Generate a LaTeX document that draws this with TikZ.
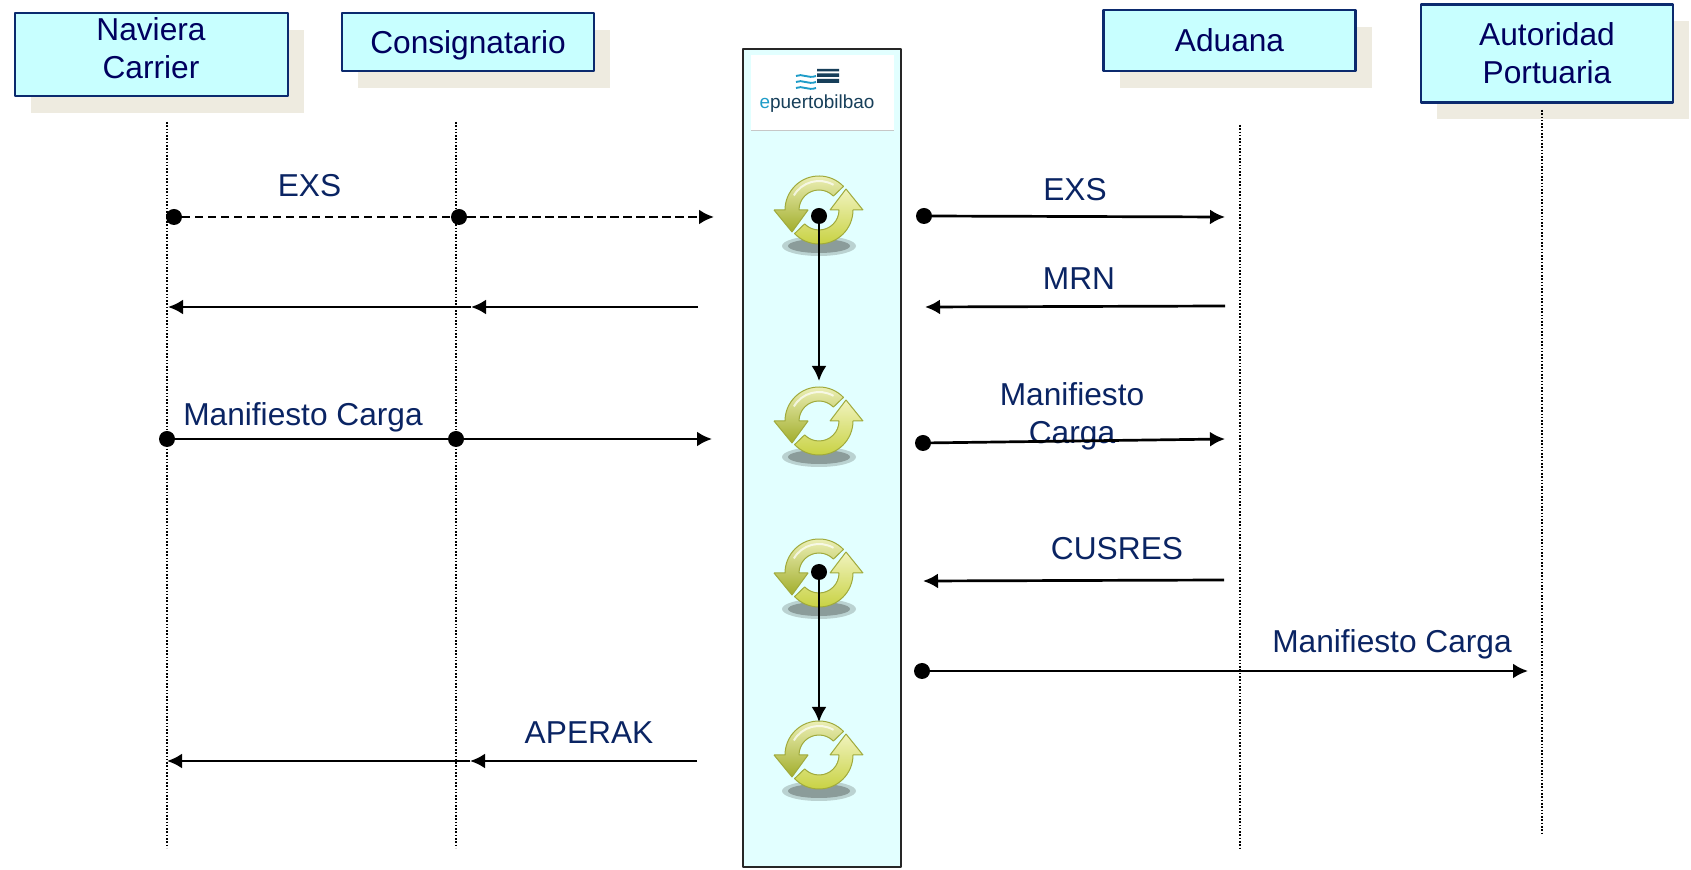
\documentclass[tikz,border=0pt]{standalone}
\usepackage{fontspec}
\setmainfont{Liberation Sans}
\usetikzlibrary{arrows.meta,shadows}
\definecolor{boxfill}{HTML}{C8FFFF}
\definecolor{boxline}{HTML}{0B2A6E}
\definecolor{boxtext}{HTML}{00005F}
\definecolor{msgtext}{HTML}{0A2463}
\definecolor{boxshadow}{HTML}{EEEBE0}
\definecolor{portfill}{HTML}{E2FFFF}
\definecolor{iconline}{HTML}{A0AA3C}
\definecolor{iconlight}{HTML}{F0F3BE}
\definecolor{icondark}{HTML}{A2AE2C}
\definecolor{iconmid}{HTML}{C6D03C}
\definecolor{iconshade}{HTML}{8B9C9A}
\definecolor{logodark}{HTML}{173F5A}
\definecolor{logoblue}{HTML}{1E9CC8}
\tikzset{
  hdrbox/.style={rectangle,draw=boxline,fill=boxfill,line width=2.6bp,inner sep=0pt,
    general shadow={shadow xshift=16bp,shadow yshift=-17bp,draw=none,fill=boxshadow,opacity=1}},
  hdrtext/.style={text=boxtext,font=\fontsize{31.8}{38}\selectfont,align=center,inner sep=0pt},
  msgtext/.style={text=msgtext,font=\fontsize{31.8}{38}\selectfont,align=center,inner sep=0pt},
  msgdot/.style={circle,fill=black,minimum size=16bp,inner sep=0pt},
  lifeline/.style={line width=1.7bp,dash pattern=on 1.6bp off 1.7bp},
  msgline/.style={->,line width=2.7bp},
  cycleicon/.pic={
    \fill [iconshade,opacity=.45] (0bp,-36bp) ellipse (37bp and 10bp);
    \fill [iconshade] (0bp,-36bp) ellipse (31bp and 7bp);
    \path [draw=iconline,line width=1bp,top color=iconlight,bottom color=icondark]
      (44:34bp) arc [start angle=44,end angle=180,radius=34bp] -- (-45bp,0bp) -- (-27bp,-22bp)
      -- (-11bp,0bp) -- (-20bp,0bp) arc [start angle=180,end angle=44,radius=20bp] -- cycle;
    \path [draw=iconline,line width=1bp,top color=iconlight,bottom color=iconmid]
      (-136:34bp) arc [start angle=-136,end angle=0,radius=34bp] -- (44bp,0bp) -- (27bp,21bp)
      -- (11bp,0bp) -- (20bp,0bp) arc [start angle=0,end angle=-136,radius=20bp] -- cycle;
    \draw [white,opacity=.7,line width=2bp] (60:29bp) arc [start angle=60,end angle=150,radius=29bp];
  }
}
\begin{document}
\begin{tikzpicture}[>={Latex[length=15bp,width=15bp]},line join=bevel]
  \useasboundingbox (0bp,0bp) rectangle (1691bp,870bp);
  % Node: platform
  \node [rectangle,draw=black!85,fill=portfill,line width=2.8bp,minimum width=158bp,minimum height=818bp] (puerto) at (822bp,412bp) {};
  \node [rectangle,fill=white,minimum width=143bp,minimum height=75bp,inner sep=0pt] (logopanel) at (822.5bp,777.5bp) {};
  \draw [black!22,line width=1bp] (logopanel.south west) -- (logopanel.south east);
  \node [font=\fontsize{19}{22}\selectfont,text=logodark,inner sep=0pt] (logotext) at (817bp,766bp) {\textcolor{logoblue}{e}puertobilbao};
  \fill [logodark] (817bp,798.5bp) rectangle (839bp,801bp) (817bp,793bp) rectangle (839bp,796.5bp) (817bp,787bp) rectangle (839bp,791bp);
  \foreach \wavey in {794bp,788bp,782bp}
    \draw [logoblue,line width=1.9bp] (796bp,\wavey) .. controls (802bp,\wavey+3bp) and (808bp,\wavey-3bp) .. (816bp,\wavey);
  % Node: headers
  \node [hdrbox,minimum width=273bp,minimum height=83bp] (naviera) at (151.5bp,815.5bp) {};
  \node [hdrtext] (navieratext) at (151bp,822bp) {Naviera\\Carrier};
  \node [hdrbox,minimum width=252bp,minimum height=58bp] (consig) at (468bp,828bp) {};
  \node [hdrtext] (consigtext) at (468bp,825bp) {Consignatario};
  \node [hdrbox,minimum width=252bp,minimum height=61bp] (aduana) at (1229.5bp,829.5bp) {};
  \node [hdrtext] (aduanatext) at (1229.5bp,830bp) {Aduana};
  \node [hdrbox,minimum width=252bp,minimum height=98bp] (autoridad) at (1547bp,816.5bp) {};
  \node [hdrtext] (autoridadtext) at (1547bp,817bp) {Autoridad\\Portuaria};
  % Edge: lifelines
  \coordinate (navtop) at (167bp,748bp);
  \coordinate (navbot) at (167bp,22bp);
  \coordinate (contop) at (456bp,748bp);
  \coordinate (conbot) at (456bp,22bp);
  \coordinate (adutop) at (1240bp,745bp);
  \coordinate (adubot) at (1240bp,20bp);
  \coordinate (auttop) at (1542bp,760bp);
  \coordinate (autbot) at (1542bp,36bp);
  \draw [lifeline] (navtop) -- (navbot);
  \draw [lifeline] (contop) -- (conbot);
  \draw [lifeline] (adutop) -- (adubot);
  \draw [lifeline] (auttop) -- (autbot);
  % Node: cycle icons
  \pic (iconone) at (819bp,660bp) {cycleicon};
  \pic (icontwo) at (819bp,449bp) {cycleicon};
  \pic (iconthree) at (819bp,297bp) {cycleicon};
  \pic (iconfour) at (819bp,115bp) {cycleicon};
  % Edge: EXS left
  \node [msgdot] (exsnav) at (174bp,653bp) {};
  \node [msgdot] (exscon) at (459bp,653bp) {};
  \coordinate (exsend) at (714bp,653bp);
  \draw [line width=2.7bp,dash pattern=on 8bp off 5bp] (exsnav) -- (exscon);
  \draw [msgline,dash pattern=on 9bp off 4bp] (exscon) -- (exsend);
  \node [msgtext] (exslabel) at (309.5bp,684bp) {EXS};
  % Edge: reply to consignee and carrier
  \coordinate (mrnstart) at (698bp,563bp);
  \coordinate (mrncon) at (471bp,563bp);
  \coordinate (mrnnav) at (168bp,563bp);
  \draw [msgline] (mrnstart) -- (mrncon);
  \draw [msgline] (mrncon) -- (mrnnav);
  % Edge: cargo manifest left
  \node [msgdot] (mannav) at (167bp,431bp) {};
  \node [msgdot] (mancon) at (456bp,431bp) {};
  \coordinate (manend) at (712bp,431bp);
  \draw [line width=2.7bp] (mannav) -- (mancon);
  \draw [msgline] (mancon) -- (manend);
  \node [msgtext] (manlabel) at (303bp,453bp) {Manifiesto Carga};
  % Edge: APERAK
  \coordinate (apkstart) at (697bp,109bp);
  \coordinate (apkcon) at (470bp,109bp);
  \coordinate (apknav) at (167bp,109bp);
  \draw [msgline] (apkstart) -- (apkcon);
  \draw [msgline] (apkcon) -- (apknav);
  \node [msgtext] (apklabel) at (589bp,137bp) {APERAK};
  % Edge: inside the platform
  \node [msgdot] (flowonetop) at (819bp,654bp) {};
  \coordinate (flowoneend) at (819bp,489bp);
  \draw [msgline] (flowonetop) -- (flowoneend);
  \node [msgdot] (flowtwotop) at (819bp,298bp) {};
  \coordinate (flowtwoend) at (819bp,148bp);
  \draw [msgline] (flowtwotop) -- (flowtwoend);
  % Edge: EXS right
  \node [msgdot] (exsport) at (924bp,654bp) {};
  \coordinate (exsadu) at (1225bp,653bp);
  \draw [msgline] (exsport) -- (exsadu);
  \node [msgtext] (exsrlabel) at (1075bp,680bp) {EXS};
  % Edge: MRN
  \coordinate (mrnadu) at (1225bp,564bp);
  \coordinate (mrnport) at (925bp,563bp);
  \draw [msgline] (mrnadu) -- (mrnport);
  \node [msgtext] (mrnlabel) at (1079bp,591bp) {MRN};
  % Edge: cargo manifest to customs
  \node [msgtext] (manrlabel) at (1072bp,454bp) {Manifiesto\\Carga};
  \node [msgdot] (manport) at (923bp,427bp) {};
  \coordinate (manadu) at (1225bp,431bp);
  \draw [msgline] (manport) -- (manadu);
  % Edge: CUSRES
  \coordinate (cusadu) at (1224bp,290bp);
  \coordinate (cusport) at (923bp,289bp);
  \draw [msgline] (cusadu) -- (cusport);
  \node [msgtext] (cuslabel) at (1117bp,321bp) {CUSRES};
  % Edge: cargo manifest to port authority
  \node [msgdot] (autport) at (922bp,199bp) {};
  \coordinate (autend) at (1528bp,199bp);
  \draw [msgline] (autport) -- (autend);
  \node [msgtext] (autlabel) at (1392bp,226bp) {Manifiesto Carga};
\end{tikzpicture}
\end{document}
